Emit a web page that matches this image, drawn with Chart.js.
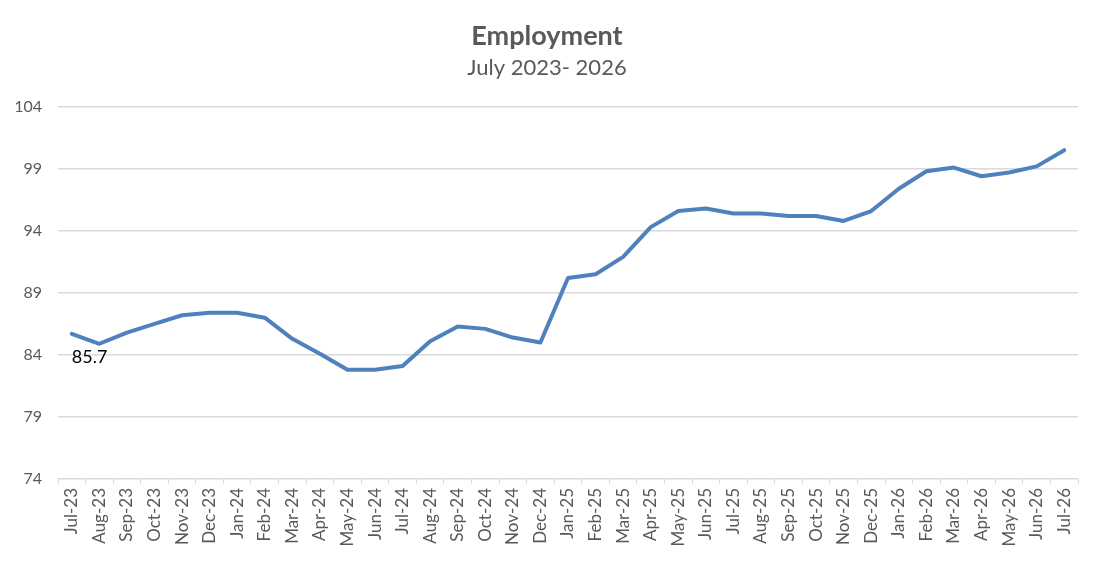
<!DOCTYPE html>
<html lang="en">
<head>
    <meta charset="UTF-8">
    <title>Employment</title>
    <script src="https://cdn.jsdelivr.net/npm/chart.js"></script>
    <style>
        html, body { margin: 0; padding: 0; background: #fff; }
        #wrap { width: 1100px; height: 563px; }
    </style>
</head>
<body>
    <div id="wrap"><canvas id="empChart" width="1100" height="563"></canvas></div>

    <script>
        const months = ['Jul-23', 'Aug-23', 'Sep-23', 'Oct-23', 'Nov-23', 'Dec-23',
            'Jan-24', 'Feb-24', 'Mar-24', 'Apr-24', 'May-24', 'Jun-24', 'Jul-24', 'Aug-24', 'Sep-24', 'Oct-24', 'Nov-24', 'Dec-24',
            'Jan-25', 'Feb-25', 'Mar-25', 'Apr-25', 'May-25', 'Jun-25', 'Jul-25', 'Aug-25', 'Sep-25', 'Oct-25', 'Nov-25', 'Dec-25',
            'Jan-26', 'Feb-26', 'Mar-26', 'Apr-26', 'May-26', 'Jun-26', 'Jul-26'];

        const employment = [85.7, 84.9, 85.8, 86.5, 87.2, 87.4,
            87.4, 87.0, 85.3, 84.1, 82.8, 82.8, 83.1, 85.1, 86.3, 86.1, 85.4, 85.0,
            90.2, 90.5, 91.9, 94.3, 95.6, 95.8, 95.4, 95.4, 95.2, 95.2, 94.8, 95.6,
            97.4, 98.8, 99.1, 98.4, 98.7, 99.2, 100.5];

        const yMin = 74, yMax = 104, yStep = 5;
        const labelIndex = 0; // only the first point carries a value label

        const textColor = '#595959';
        const gridColor = '#d9d9d9';
        const fontFamily = 'Lato, "Open Sans", sans-serif';

        // value label under the first point
        const firstLabel = {
            id: 'firstLabel',
            afterDatasetsDraw(chart) {
                const pt = chart.getDatasetMeta(0).data[labelIndex];
                const ctx = chart.ctx;
                ctx.save();
                ctx.fillStyle = '#000';
                ctx.font = '18px ' + fontFamily;
                ctx.textAlign = 'left';
                ctx.textBaseline = 'middle';
                ctx.fillText(employment[labelIndex].toFixed(1), pt.x, pt.y + 23);
                ctx.restore();
            }
        };

        new Chart(document.getElementById('empChart').getContext('2d'), {
            type: 'line',
            data: {
                labels: months,
                datasets: [{
                    label: 'Employment',
                    data: employment,
                    borderColor: '#4f81bd',
                    borderWidth: 4,
                    pointRadius: 0,
                    tension: 0,
                    borderJoinStyle: 'round',
                    borderCapStyle: 'round'
                }]
            },
            options: {
                responsive: false,
                animation: false,
                layout: { padding: { left: 16, right: 22, bottom: 0 } },
                plugins: {
                    legend: { display: false },
                    tooltip: { enabled: false },
                    title: {
                        display: true,
                        text: 'Employment',
                        color: textColor,
                        font: { family: fontFamily, size: 27, weight: 'bold' },
                        padding: { top: 20, bottom: 2 }
                    },
                    subtitle: {
                        display: true,
                        text: 'July 2023- 2026',
                        color: textColor,
                        font: { family: fontFamily, size: 22 },
                        padding: { top: 0, bottom: 26 }
                    }
                },
                scales: {
                    x: {
                        offset: true,
                        border: { display: false },
                        grid: {
                            offset: true,
                            drawOnChartArea: false,
                            drawTicks: true,
                            tickLength: 5,
                            color: gridColor
                        },
                        ticks: {
                            color: textColor,
                            font: { family: fontFamily, size: 17 },
                            minRotation: 90,
                            maxRotation: 90,
                            autoSkip: false,
                            padding: 4
                        },
                        afterFit(scale) { scale.height = 84; }
                    },
                    y: {
                        min: yMin,
                        max: yMax,
                        border: { display: false },
                        grid: { color: gridColor, lineWidth: 1.5, drawTicks: false },
                        ticks: {
                            stepSize: yStep,
                            color: textColor,
                            font: { family: fontFamily, size: 16 },
                            padding: 16
                        },
                        afterFit(scale) { scale.width = 42; }
                    }
                }
            },
            plugins: [firstLabel]
        });
    </script>
</body>
</html>
